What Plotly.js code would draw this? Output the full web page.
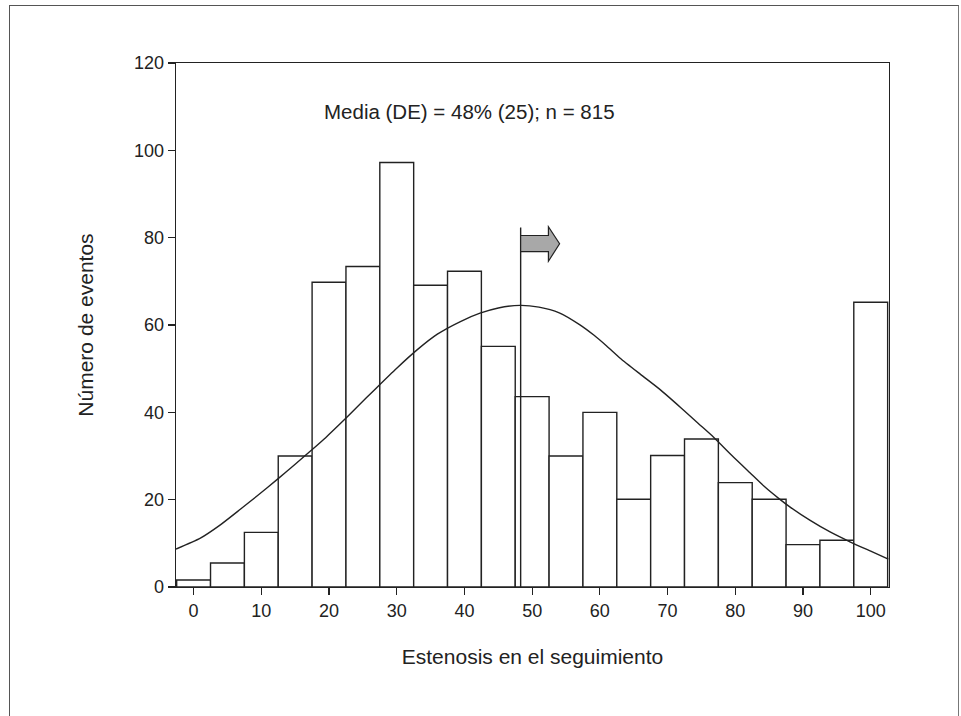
<!DOCTYPE html>
<html>
<head>
<meta charset="utf-8">
<script src="https://cdn.plot.ly/plotly-3.0.1.min.js"></script>
<style>
html,body{margin:0;padding:0;background:#fff;}
#frame{position:absolute;left:9px;top:5px;width:950px;height:760px;border-left:1.5px solid #555;border-top:1.5px solid #555;border-right:1.5px solid #777;box-sizing:border-box;pointer-events:none;z-index:5;}
#chart{position:absolute;left:0;top:0;width:961px;height:716px;}
</style>
</head>
<body>
<div id="chart"></div>
<div id="frame"></div>
<script>
// Histogram bins (centres, width 5) and counts
const binCenters = [0,5,10,15,20,25,30,35,40,45,50,55,60,65,70,75,80,85,90,95,100];
const binCounts  = [1.6,5.5,12.5,30,69.8,73.4,97.2,69.1,72.3,55.1,43.6,30,40,20.1,30.1,33.9,23.9,20.1,9.7,10.7,65.2];
const binWidth = 5;

// Fitted normal curve
const curveX = [-2.6,1,4,6.9,9.5,12.4,15,17.3,19.5,21.6,24,27,30,33,36,39.4,42.3,45,48.2,51,54,57,59.1,61,63,66,68.9,72,74.5,76.8,79.5,82.2,84.3,86.4,88.1,91,94,97,100,102.6];
const curveY = [8.7,11.2,14.3,17.8,21.0,24.7,28.1,31.2,34.2,37.3,41.0,45.6,50.1,54.3,57.9,60.8,62.7,63.9,64.5,64.1,62.8,60.1,57.7,55.2,52.4,48.7,45.2,41.0,37.5,34.3,30.1,26.1,23.0,20.3,18.3,15.3,12.6,10.3,8.2,6.4];

// Mean marker and arrow
const meanX = 48.3;
const meanLineTop = 82.3;
const arrowX = [48.3, 52.4, 54.05];     // start, head base, tip
const arrowY = [76.8, 80.5, 74.6, 82.5, 78.6]; // body bottom, body top, head bottom, head top, centre

const annText = 'Media (DE) = 48% (25); n = 815';
const xTicks = [0,10,20,30,40,50,60,70,80,90,100];
const yTicks = [0,20,40,60,80,100,120];

const fam = '"Liberation Sans", Arial, sans-serif';
const tickFont = {family: fam, size: 18, color: '#222'};
const titleFont = {family: fam, size: 21, color: '#222'};
const annFont = {family: fam, size: 20.5, color: '#222'};

const traces = [
  {
    type: 'bar', x: binCenters, y: binCounts, width: binWidth,
    marker: {color: '#ffffff', line: {color: '#222', width: 1.4}},
    hoverinfo: 'skip'
  },
  {
    type: 'scatter', mode: 'lines', x: curveX, y: curveY,
    line: {color: '#222', width: 1.4, shape: 'spline', smoothing: 0.6},
    hoverinfo: 'skip'
  }
];

const arrowPath = 'M ' + arrowX[0] + ' ' + arrowY[0] +
  ' L ' + arrowX[0] + ' ' + arrowY[1] +
  ' L ' + arrowX[1] + ' ' + arrowY[1] +
  ' L ' + arrowX[1] + ' ' + arrowY[3] +
  ' L ' + arrowX[2] + ' ' + arrowY[4] +
  ' L ' + arrowX[1] + ' ' + arrowY[2] +
  ' L ' + arrowX[1] + ' ' + arrowY[0] + ' Z';

const layout = {
  width: 961, height: 716,
  margin: {l: 176, r: 72, t: 63, b: 129},
  paper_bgcolor: '#fff', plot_bgcolor: '#fff',
  showlegend: false,
  font: tickFont,
  bargap: 0,
  xaxis: {
    range: [-2.6, 102.7], tickvals: xTicks, ticks: 'outside', ticklen: 7, tickwidth: 1.2, tickcolor: '#222',
    showline: true, linecolor: '#222', linewidth: 1.4, mirror: true, showgrid: false, zeroline: false,
    tickfont: tickFont,
    title: {text: 'Estenosis en el seguimiento', font: titleFont, standoff: 29}
  },
  yaxis: {
    range: [0, 120], tickvals: yTicks, ticks: 'outside', ticklen: 7, tickwidth: 1.2, tickcolor: '#222',
    showline: true, linecolor: '#222', linewidth: 1.4, mirror: true, showgrid: false, zeroline: false,
    tickfont: tickFont,
    title: {text: 'Número de eventos', font: titleFont, standoff: 34}
  },
  shapes: [
    {type: 'line', xref: 'x', yref: 'y', x0: meanX, x1: meanX, y0: 0, y1: meanLineTop, line: {color: '#222', width: 1.4}},
    {type: 'path', xref: 'x', yref: 'y', path: arrowPath, fillcolor: '#a8a8a8', line: {color: '#222', width: 1.2}}
  ],
  annotations: [
    {xref: 'x', yref: 'y', x: 40.7, y: 109, text: annText, showarrow: false, font: annFont, xanchor: 'center', yanchor: 'middle'}
  ]
};

Plotly.newPlot('chart', traces, layout, {displayModeBar: false, staticPlot: true});
</script>
</body>
</html>
